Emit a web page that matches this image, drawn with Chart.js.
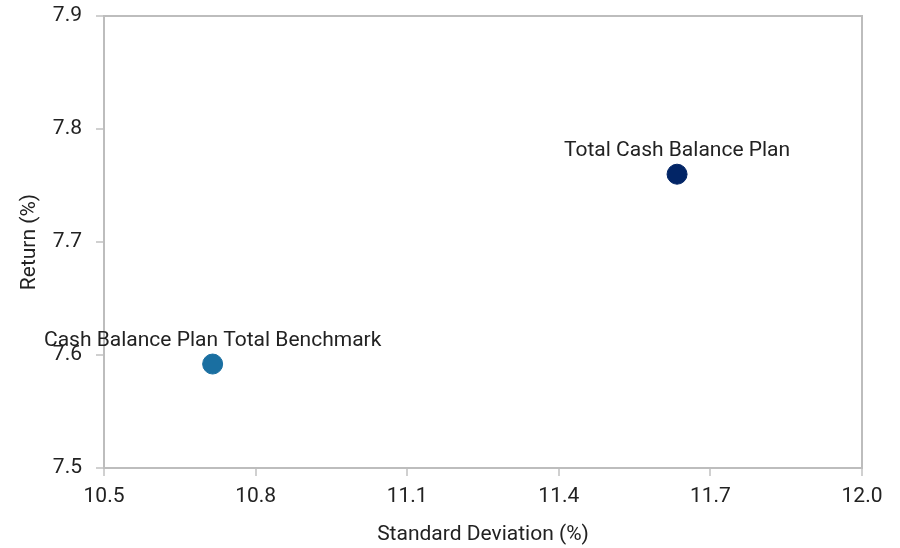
<!DOCTYPE html>
<html>
<head>
<meta charset="utf-8">
<script src="https://cdn.jsdelivr.net/npm/chart.js@4/dist/chart.umd.min.js"></script>
<style>
  html, body { margin: 0; padding: 0; background: #fff; }
  #wrap { width: 900px; height: 548px; position: relative; }
</style>
</head>
<body>
<div id="wrap"><canvas id="c"></canvas></div>
<script>
// Risk / return points
const names = ['Total Cash Balance Plan', 'Cash Balance Plan Total Benchmark'];
const stdDev = [11.634, 10.715];
const returns = [7.760, 7.592];
const colors = ['#022566', '#1a6fa1'];

// Axis ranges
const xTicks = [10.5, 10.8, 11.1, 11.4, 11.7, 12.0];
const yTicks = [7.5, 7.6, 7.7, 7.8, 7.9];

const FONT = 'Roboto, "Noto Sans", sans-serif';
const FS = 21;
const TEXT = '#222222';
const LINE = '#bdbdbd';

const datasets = names.map((n, i) => ({
  label: n,
  data: [{ x: stdDev[i], y: returns[i] }],
  backgroundColor: colors[i],
  borderColor: colors[i],
  pointRadius: 10,
  pointHoverRadius: 10
}));

// Frame around the plot area plus a name above each point
const extras = {
  id: 'extras',
  afterDraw(chart) {
    const { ctx, chartArea: a } = chart;
    ctx.save();
    ctx.strokeStyle = LINE;
    ctx.lineWidth = 2;
    ctx.strokeRect(a.left, a.top, a.right - a.left, a.bottom - a.top);
    ctx.font = FS + 'px ' + FONT;
    ctx.fillStyle = TEXT;
    ctx.textAlign = 'center';
    ctx.textBaseline = 'alphabetic';
    chart.data.datasets.forEach((ds, i) => {
      const el = chart.getDatasetMeta(i).data[0];
      ctx.fillText(ds.label, el.x, el.y - 18);
    });
    ctx.restore();
  }
};

new Chart(document.getElementById('c'), {
  type: 'scatter',
  data: { datasets },
  options: {
    responsive: true,
    maintainAspectRatio: false,
    animation: false,
    layout: { padding: { top: 16, right: 38, bottom: 0, left: 0 } },
    plugins: { legend: { display: false }, tooltip: { enabled: false } },
    scales: {
      x: {
        type: 'linear',
        min: xTicks[0],
        max: xTicks[xTicks.length - 1],
        afterBuildTicks(s) { s.ticks = xTicks.map(v => ({ value: v })); },
        afterFit(s) { s.height = 80; s.paddingLeft = 0; s.paddingRight = 0; },
        ticks: { font: { size: FS, family: FONT }, color: TEXT, padding: 8,
                 callback: v => Number(v).toFixed(1) },
        grid: { drawOnChartArea: false, tickLength: 8, color: '#d0d0d0', lineWidth: 2 },
        border: { color: LINE, width: 2 },
        title: { display: true, text: 'Standard Deviation (%)', color: TEXT,
                 font: { size: FS, family: FONT }, padding: { top: 1, bottom: 1 } }
      },
      y: {
        type: 'linear',
        min: yTicks[0],
        max: yTicks[yTicks.length - 1],
        afterBuildTicks(s) { s.ticks = yTicks.map(v => ({ value: v })); },
        afterFit(s) { s.width = 104; s.paddingTop = 0; s.paddingBottom = 0; },
        ticks: { font: { size: FS, family: FONT }, color: TEXT, padding: 14,
                 callback: v => Number(v).toFixed(1) },
        grid: { drawOnChartArea: false, tickLength: 8, color: '#d0d0d0', lineWidth: 2 },
        border: { color: LINE, width: 2 },
        title: { display: true, text: 'Return (%)', color: TEXT,
                 font: { size: FS, family: FONT }, padding: { top: 17, bottom: 0 } }
      }
    }
  },
  plugins: [extras]
});
</script>
</body>
</html>
